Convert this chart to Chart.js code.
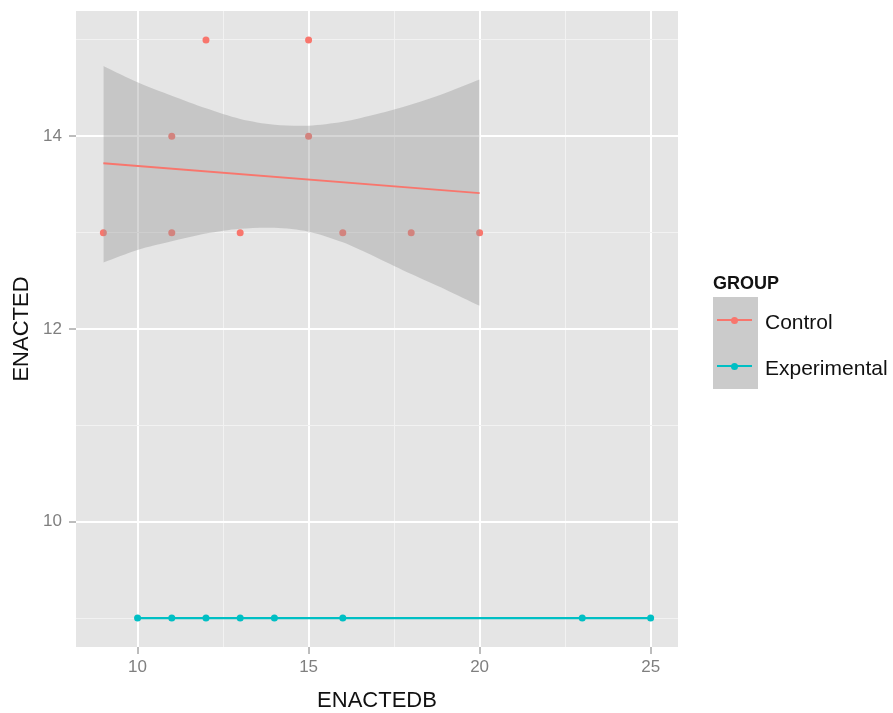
<!DOCTYPE html>
<html>
<head>
<meta charset="utf-8">
<title>ENACTED vs ENACTEDB</title>
<script src="https://cdn.jsdelivr.net/npm/chart.js@4/dist/chart.umd.min.js"></script>
<style>
  html, body { margin: 0; padding: 0; background: #fff; }
  #wrap { position: relative; width: 893px; height: 713px; font-family: "Liberation Sans", Arial, sans-serif; }
  #legend { position: absolute; left: 713px; top: 273px; color: #111; }
  #legend .ttl { font-weight: bold; font-size: 18px; line-height: 21px; margin-bottom: 3px; }
  .key { position: relative; height: 46px; }
  .key .box { position: absolute; left: 0; top: 0; width: 45px; height: 46px; background: #cbcbcb; }
  .key .ln { position: absolute; left: 4px; top: 22px; width: 35px; height: 2px; }
  .key .pt { position: absolute; left: 18px; top: 19.5px; width: 7px; height: 7px; border-radius: 50%; }
  .key .lab { position: absolute; left: 52px; top: 13px; font-size: 21px; line-height: 23px; white-space: nowrap; }
</style>
</head>
<body>
<div id="wrap">
  <canvas id="chart" width="893" height="713"></canvas>
  <div id="legend"></div>
</div>
<script>
// data
const controlX = [9, 11, 11, 12, 13, 15, 15, 16, 18, 20];
const controlY = [13, 13, 14, 15, 13, 15, 14, 13, 13, 13];
const expX = [10, 11, 12, 13, 14, 16, 23, 25];
const expY = [9, 9, 9, 9, 9, 9, 9, 9];

// lm fit + confidence band (Control)
const bandX = [9, 10, 11, 12, 13, 14, 15, 16, 17, 18, 19, 20];
const bandUpper = [14.73, 14.56, 14.42, 14.29, 14.18, 14.12, 14.11, 14.15, 14.23, 14.33, 14.45, 14.59];
const bandLower = [12.69, 12.82, 12.91, 12.99, 13.04, 13.05, 13.01, 12.90, 12.74, 12.57, 12.41, 12.24];
const controlFitX = [9, 20];
const controlFitY = [13.72, 13.41];
const expFitX = [10, 25];
const expFitY = [9, 9];

const xTicks = [10, 12.5, 15, 17.5, 20, 22.5, 25];
const xLabels = [10, 15, 20, 25];
const yTicks = [9, 10, 11, 12, 13, 14, 15];
const yLabels = [10, 12, 14];

const groups = ["Control", "Experimental"];
const colors = ["#F8766D", "#00BFC4"];

const zip = (xs, ys) => xs.map((x, i) => ({ x, y: ys[i] }));

// grey panel behind the grid
const panelBg = {
    id: "panelBg",
    beforeDraw(chart) {
        const { ctx, chartArea: a } = chart;
        ctx.save();
        ctx.fillStyle = "#E5E5E5";
        ctx.fillRect(a.left, a.top, a.right - a.left, a.bottom - a.top);
        ctx.restore();
    }
};

const gridOpts = (labels) => ({
    color: c => labels.includes(c.tick && c.tick.value) ? "#FFFFFF" : "#F2F2F2",
    lineWidth: c => labels.includes(c.tick && c.tick.value) ? 2 : 1,
    tickColor: c => labels.includes(c.tick && c.tick.value) ? "#7a7a7a" : "rgba(0,0,0,0)",
    tickWidth: 1,
    tickLength: 7,
    drawOnChartArea: true
});

new Chart(document.getElementById("chart"), {
    type: "line",
    plugins: [panelBg],
    data: {
        datasets: [
            { data: zip(controlX, controlY), showLine: false, pointRadius: 3.5, pointBackgroundColor: colors[0], pointBorderWidth: 0, order: 4 },
            { data: zip(expX, expY), showLine: false, pointRadius: 3.5, pointBackgroundColor: colors[1], pointBorderWidth: 0, order: 4 },
            { data: zip(bandX, bandLower), borderWidth: 0, pointRadius: 0, tension: 0.3, fill: false, order: 3 },
            { data: zip(bandX, bandUpper), borderWidth: 0, pointRadius: 0, tension: 0.3, fill: "-1", backgroundColor: "rgba(153,153,153,0.4)", order: 3 },
            { data: zip(controlFitX, controlFitY), borderColor: colors[0], borderWidth: 2, pointRadius: 0, fill: false, order: 1 },
            { data: zip(expFitX, expFitY), borderColor: colors[1], borderWidth: 2.2, pointRadius: 0, fill: false, order: 1 }
        ]
    },
    options: {
        responsive: false,
        animation: false,
        devicePixelRatio: 1,
        layout: { padding: { top: 11, right: 215, left: 0, bottom: 0 } },
        plugins: { legend: { display: false }, tooltip: { enabled: false } },
        scales: {
            x: {
                type: "linear",
                min: 8.2,
                max: 25.8,
                border: { display: false },
                grid: gridOpts(xLabels),
                afterBuildTicks: s => { s.ticks = xTicks.map(v => ({ value: v })); },
                afterFit: s => { s.height = 66; s.paddingLeft = 0; s.paddingRight = 0; },
                ticks: {
                    autoSkip: false,
                    maxRotation: 0,
                    padding: 3,
                    color: "#7f7f7f",
                    font: { size: 17 },
                    callback: v => xLabels.includes(v) ? String(v) : ""
                },
                title: { display: true, text: "ENACTEDB", color: "#111", font: { size: 22, lineHeight: 1 }, padding: { top: 0, bottom: 1 } }
            },
            y: {
                type: "linear",
                min: 8.7,
                max: 15.3,
                border: { display: false },
                grid: gridOpts(yLabels),
                afterBuildTicks: s => { s.ticks = yTicks.map(v => ({ value: v })); },
                afterFit: s => { s.width = 76; s.paddingTop = 0; s.paddingBottom = 0; },
                ticks: {
                    autoSkip: false,
                    padding: 7,
                    color: "#7f7f7f",
                    font: { size: 17 },
                    callback: v => yLabels.includes(v) ? String(v) : ""
                },
                title: { display: true, text: "ENACTED", color: "#111", font: { size: 22, lineHeight: 1.2 }, padding: { top: 9, bottom: 0 } }
            }
        }
    }
});

// legend
const legend = document.getElementById("legend");
legend.innerHTML = '<div class="ttl">GROUP</div>' + groups.map((g, i) =>
    '<div class="key"><div class="box"></div>' +
    '<div class="ln" style="background:' + colors[i] + '"></div>' +
    '<div class="pt" style="background:' + colors[i] + '"></div>' +
    '<div class="lab">' + g + '</div></div>').join("");
</script>
</body>
</html>
